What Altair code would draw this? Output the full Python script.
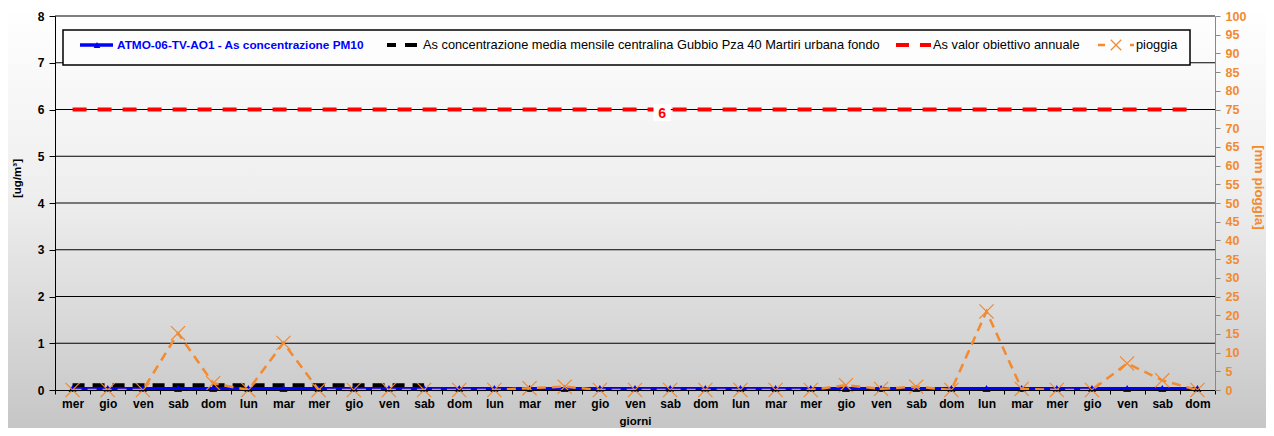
import altair as alt
import pandas as pd

days = ["mer", "gio", "ven", "sab", "dom", "lun", "mar", "mer", "gio", "ven", "sab",
        "dom", "lun", "mar", "mer", "gio", "ven", "sab", "dom", "lun", "mar", "mer",
        "gio", "ven", "sab", "dom", "lun", "mar", "mer", "gio", "ven", "sab", "dom"]
pm10 = [0.03, 0.03, 0.03, 0.03, 0.03, 0.03, 0.03, 0.03, 0.03, 0.03, 0.03,
        0.03, 0.03, 0.03, 0.03, 0.03, 0.03, 0.03, 0.03, 0.03, 0.03, 0.03,
        0.03, 0.03, 0.03, 0.03, 0.03, 0.03, 0.03, 0.03, 0.03, 0.03, 0.03]
media = [0.1, 0.1, 0.1, 0.1, 0.1, 0.1, 0.1, 0.1, 0.1, 0.1, 0.1,
         None, None, None, None, None, None, None, None, None, None, None,
         None, None, None, None, None, None, None, None, None, None, None]
obiettivo = [6, 6, 6, 6, 6, 6, 6, 6, 6, 6, 6,
             6, 6, 6, 6, 6, 6, 6, 6, 6, 6, 6,
             6, 6, 6, 6, 6, 6, 6, 6, 6, 6, 6]
pioggia = [0, 0, 0, 15.2, 1.8, 0, 12.6, 0, 0, 0, 0,
           0, 0, 0.5, 0.9, 0, 0, 0, 0, 0, 0, 0,
           1.3, 0.3, 0.9, 0, 21.0, 0.3, 0, 0, 7.1, 2.6, 0]
left_ticks = [0, 1, 2, 3, 4, 5, 6, 7, 8]
grid_values = [1, 2, 3, 4, 5, 6, 7, 8]
right_ticks = [0, 5, 10, 15, 20, 25, 30, 35, 40, 45, 50, 55, 60, 65, 70, 75, 80, 85, 90, 95, 100]
label_day = 17

legend_labels = ["ATMO-06-TV-AO1 - As concentrazione PM10",
                 "As concentrazione media mensile centralina Gubbio Pza 40 Martiri urbana fondo",
                 "As valor obiettivo annuale",
                 "pioggia"]

W, H = 1160, 374
BLUE = "#0000ff"
ORANGE = "#f28a30"
RED = "#ff0000"
FONT = "Liberation Sans"
XSHAPE = "M-1,-1L1,1M-1,1L1,-1"

df = pd.DataFrame({"idx": list(range(len(days))), "day": days, "pm10": pm10,
                   "media": media, "obiettivo": obiettivo, "pioggia": pioggia})
grid_df = pd.DataFrame({"g": grid_values})
one = pd.DataFrame({"a": [0]})

day_js = "[" + ",".join("'" + d + "'" for d in days) + "]"

x_enc = alt.X("idx:O", title="giorni",
              scale=alt.Scale(type="band", paddingInner=0, paddingOuter=0),
              axis=alt.Axis(labelExpr=day_js + "[datum.value]", labelAngle=0, zindex=1,
                            tickBand="extent", tickSize=4, tickColor="black",
                            domainColor="black", labelColor="black", labelFontSize=12,
                            labelFontWeight="bold", labelPadding=4, titleFontSize=11.5,
                            titleFontWeight="bold", titleColor="black",
                            titleBaseline="middle", titleY=31, grid=False))

left_axis = alt.Axis(orient="left", values=left_ticks, grid=False, tickSize=6, zindex=1,
                     tickColor="black", domainColor="black", labelColor="black",
                     labelFontSize=12, labelFontWeight="bold", labelPadding=5,
                     titleFontSize=11.5, titleFontWeight="bold", titleColor="black",
                     titleX=-38, titleY=162, titleAngle=-90, titleBaseline="middle")
left_scale = alt.Scale(domain=[0, 8], nice=False, zero=True)


def yl(field):
    return alt.Y(field + ":Q", scale=left_scale, axis=left_axis, title="[ug/m³]")


bg = alt.Chart(one).mark_rect(
    fill=alt.Gradient(gradient="linear", x1=0, x2=0, y1=0, y2=1,
                      stops=[alt.GradientStop(offset=0, color="#ffffff"),
                             alt.GradientStop(offset=0.45, color="#eeeeee"),
                             alt.GradientStop(offset=1, color="#c6c6c6")])
).encode(x=alt.value(-47), x2=alt.value(W + 51), y=alt.value(-8), y2=alt.value(H + 38))

grid = alt.Chart(grid_df).mark_rule(color="black", strokeWidth=1).encode(y=yl("g"))

red = alt.Chart(df).mark_line(color=RED, strokeWidth=4, strokeDash=[14, 11]).encode(
    x=x_enc, y=yl("obiettivo"))
black = alt.Chart(df).mark_line(color="black", strokeWidth=4, strokeDash=[12, 8]).encode(
    x=x_enc, y=yl("media"))
blue_line = alt.Chart(df).mark_line(color=BLUE, strokeWidth=3).encode(x=x_enc, y=yl("pm10"))
blue_pts = alt.Chart(df).mark_point(shape="triangle-up", filled=True, color=BLUE, size=65,
                                    opacity=1).encode(x=x_enc, y=yl("pm10"))

lab_df = df[df["idx"] == label_day]
lab_bg = alt.Chart(lab_df).mark_point(shape="square", filled=True, color="white", size=300,
                                      opacity=1, xOffset=-8, yOffset=3).encode(
    x=x_enc, y=yl("obiettivo"))
lab_txt = alt.Chart(lab_df).mark_text(color=RED, fontSize=14, fontWeight="bold", dx=-8, dy=4,
                                      font=FONT).encode(
    x=x_enc, y=yl("obiettivo"), text=alt.Text("obiettivo:Q", format="d"))

left = alt.layer(grid, red, black, blue_line, blue_pts, lab_bg, lab_txt)

right_axis = alt.Axis(orient="right", values=right_ticks, grid=False, tickSize=5, zindex=1,
                      tickColor="#888888", domainColor="#888888", labelColor=ORANGE,
                      labelFontSize=12.5, labelFontWeight="bold", labelPadding=5,
                      titleFontSize=13.5, titleFontWeight="bold", titleColor=ORANGE,
                      titleX=43, titleY=171, titleAngle=90, titleBaseline="middle")
yr = alt.Y("pioggia:Q", scale=alt.Scale(domain=[0, 100], nice=False), axis=right_axis,
           title="[mm pioggia]")
or_line = alt.Chart(df).mark_line(color=ORANGE, strokeWidth=2.5, strokeDash=[9, 6]).encode(
    x=x_enc, y=yr)
or_pts = alt.Chart(df).mark_point(shape=XSHAPE, color=ORANGE, size=200,
                                  strokeWidth=1.2, filled=False, opacity=1).encode(x=x_enc, y=yr)
right = alt.layer(or_line, or_pts)

# legend
LY = 29
leg = [alt.Chart(one).mark_rect(fill="#fdfdfd", stroke="black", strokeWidth=1.5).encode(
    x=alt.value(8), x2=alt.value(1135), y=alt.value(14), y2=alt.value(49))]


def seg(x1, x2, color, width):
    return alt.Chart(one).mark_rule(color=color, strokeWidth=width).encode(
        x=alt.value(x1), x2=alt.value(x2), y=alt.value(LY), y2=alt.value(LY))


def txt(x, s, color, weight, size):
    return alt.Chart(one).mark_text(align="left", baseline="middle", font=FONT, fontSize=size,
                                    fontWeight=weight, color=color, text=s).encode(
        x=alt.value(x), y=alt.value(LY))


leg += [seg(25, 58, BLUE, 3.5),
        alt.Chart(one).mark_point(shape="triangle-up", filled=True, color=BLUE, size=45,
                                  opacity=1).encode(x=alt.value(42), y=alt.value(LY)),
        txt(62, legend_labels[0], BLUE, "bold", 11.8),
        seg(332, 341, "black", 4), seg(350, 362, "black", 4),
        txt(368, legend_labels[1], "black", "normal", 12.8),
        seg(841, 854, RED, 4), seg(865, 876, RED, 4),
        txt(878, legend_labels[2], "black", "normal", 12.8),
        seg(1043, 1050, ORANGE, 2.5),
        alt.Chart(one).mark_point(shape=XSHAPE, color=ORANGE, size=110,
                                  strokeWidth=1.3, filled=False, opacity=1).encode(
            x=alt.value(1061), y=alt.value(LY)),
        seg(1075, 1079, ORANGE, 2.5),
        txt(1081, legend_labels[3], "black", "normal", 12.8)]

chart = alt.layer(bg, left, right, *leg).resolve_scale(y="independent").properties(
    width=W, height=H, autosize=alt.AutoSizeParams(type="none"),
    padding={"left": 47, "top": 8, "right": 51, "bottom": 38}
).configure_view(stroke=None).configure(font=FONT)

chart.save("out.html", embed_options={"renderer": "svg", "actions": False})
